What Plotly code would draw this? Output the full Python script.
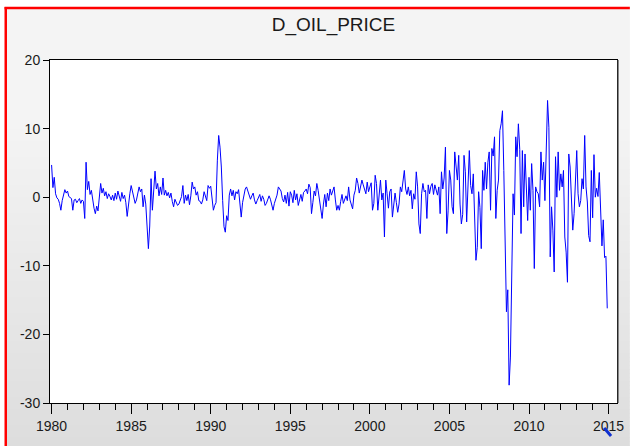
import plotly.graph_objects as go

# Monthly D_OIL_PRICE values, 1980M01 .. 2014M12
vals_1980s = [
    4.7, 1.4, 2.9, 0.5, -0.1, -0.3, -0.9, -1.9, -0.5, 0.4, 1.1, 0.6,      # 1980
    0.9, 0.1, 0.0, -0.2, -1.9, -0.4, -0.3, -0.8, -0.5, -0.2, -0.9, -0.4,  # 1981
    -0.6, -3.1, 5.1, 1.1, 2.3, 0.4, 1.0, -0.8, -1.6, -2.4, -1.3, -2.0,    # 1982
    0.4, 2.0, 0.6, 1.3, 0.2, 0.8, -0.2, 0.5, 0.1, -0.4, 0.3, -0.5,        # 1983
    0.6, -0.3, 0.9, 0.2, -0.6, 0.7, -0.2, 0.3, -0.8, -2.8, -0.9, 0.5,     # 1984
    1.7, 0.9, -0.2, -0.9, -0.4, 0.6, 1.5, 0.8, 1.2, -1.4, 0.3, -1.0,      # 1985
    -3.8, -7.5, -4.2, 2.7, -1.9, 0.6, 3.8, 1.2, 2.0, 0.2, 1.5, 0.4,       # 1986
    2.8, 0.3, 1.0, 0.2, 0.7, -0.1, 0.6, -0.6, -1.4, -0.3, -0.8, -1.2,     # 1987
    -1.0, -0.5, 0.1, 1.7, -0.9, 0.3, -0.5, 0.4, -1.1, 0.2, 2.2, 1.2,      # 1988
    1.5, 0.3, 0.8, -0.5, -0.6, -1.0, -0.4, 0.8, 0.2, -0.5, 1.7, 1.3,      # 1989
]
vals_1990s = [
    1.6, -0.5, -1.9, -1.2, -0.8, 5.4, 9.0, 7.3, 4.4, -0.5, -4.3, -5.1,    # 1990
    -2.7, -3.4, 0.3, 1.2, 0.2, 1.0, -0.4, 0.8, 0.5, 1.1, -0.6, -2.9,      # 1991
    -0.8, 0.3, 1.2, 1.5, 0.9, 0.6, -0.3, 0.2, 0.6, -0.4, -1.0, -0.5,      # 1992
    0.1, 0.4, -0.6, 0.2, -0.3, -1.2, -0.9, -0.4, 0.2, -0.3, -1.4, -1.9,   # 1993
    -0.9, -0.4, 0.3, 1.5, 1.2, 0.9, -0.2, -0.7, 0.3, -0.9, 0.7, -1.3,     # 1994
    0.8, 0.3, -0.8, 1.0, -0.4, 0.5, -1.2, -0.3, 0.4, -0.6, 0.7, 0.9,      # 1995
    1.2, 0.5, 1.9, 1.4, -2.4, -0.8, 0.9, 0.2, 2.0, 1.0, -0.5, -1.2,       # 1996
    -3.1, -1.0, 0.4, -1.4, 0.6, -0.5, 1.2, 0.3, 0.8, 1.5, -0.4, -1.9,     # 1997
    -1.2, -1.9, -0.6, 0.4, -0.9, -0.3, 0.2, -0.5, 1.5, -0.4, -1.2, -1.7,  # 1998
    0.3, 1.0, 2.8, 2.0, 0.6, 1.4, 2.5, 1.8, 1.2, 0.5, 2.2, 0.8,           # 1999
]
vals_2000s = [
    1.5, 2.1, -1.9, -0.9, 3.2, 2.0, -1.9, 0.8, 2.5, -0.4, 0.6, -5.8,      # 2000
    2.5, 0.5, -1.6, 0.8, 1.2, -2.9, -1.4, 0.6, -0.8, -2.2, -1.0, 1.5,     # 2001
    0.8, 2.5, 3.9, 1.2, 0.4, 1.5, 0.2, 1.0, -1.7, 0.5, -0.3, 3.7,         # 2002
    1.5, -3.9, -5.3, 0.5, 2.0, 0.8, 1.0, -3.1, 1.8, 0.5, 1.6, 2.0,        # 2003
    0.4, 1.8, 1.2, 0.3, 1.5, -2.4, 3.7, 1.2, 2.8, 7.3, -5.3, -2.0,        # 2004
    3.9, 2.5, -1.4, -2.4, 6.6, 4.4, 2.5, 6.1, -1.0, -3.9, -2.5, 6.1,      # 2005
    3.7, -3.6, 1.5, 6.8, 1.7, 0.5, 3.4, -5.3, -9.2, -7.3, 0.8, -1.5,      # 2006
    -7.5, 3.9, 1.0, 5.1, 1.2, 5.1, 6.6, -1.9, 7.1, 6.0, 8.8, -3.1,        # 2007
    1.0, 2.5, 9.7, 10.7, 12.6, 3.9, -8.5, -16.7, -13.5, -27.4, -23.3, -7.7,  # 2008
    0.5, -2.6, 8.8, 5.9, 10.7, 7.0, -5.3, 6.8, -1.4, 6.3, 2.2, -3.4,      # 2009
]
vals_2010s = [
    2.9, -1.9, 4.9, 1.0, -10.4, 1.5, 0.8, 0.5, -1.4, 6.6, 2.5, 5.1,       # 2010
    -0.5, 6.8, 14.1, 10.2, -8.7, -1.4, -4.8, -10.9, 5.9, 0.0, 6.6, 1.0,   # 2011
    3.4, 1.5, 3.9, -5.8, -8.0, -12.4, 6.3, 4.4, 0.5, -4.8, -2.4, 1.4,     # 2012
    6.8, 0.5, -1.4, -0.5, 2.7, 1.2, 9.0, 1.5, -0.7, -5.6, -6.5, 3.9,      # 2013
    -3.0, 6.2, 0.0, 1.3, 0.1, 3.6, -2.2, -7.1, -3.3, -8.8, -8.6, -16.2,   # 2014
]
start_year = 1980
y_ticks = [-30, -20, -10, 0, 10, 20]
y_tick_text = ["-30", "-20", "-10", "0", "10", "20"]
title_text = "D_OIL_PRICE"

values = vals_1980s + vals_1990s + vals_2000s + vals_2010s
dates = [start_year + i / 12.0 for i in range(len(values))]

W_FIG, H_FIG = 635, 446
L, R, T, B = 50, 624, 60, 403
PW, PH = R - L, B - T


def px(x):
    return (x - L) / PW


def py(y):
    return (B - y) / PH


fig = go.Figure()
fig.add_trace(go.Scatter(x=dates, y=values, mode="lines",
                         line=dict(color="#0000ff", width=1),
                         hoverinfo="skip", showlegend=False))

shapes = []
# gray panel with a soft vertical gradient
y0 = 9
step = 4
while y0 < H_FIG:
    y1 = min(y0 + step, H_FIG)
    ym = (y0 + y1) / 2
    if ym < 120:
        g = 244
    else:
        g = round(244 - 23 * (ym - 120) / (H_FIG - 120))
    col = "rgb(%d,%d,%d)" % (g, g, g)
    shapes.append(dict(type="rect", xref="paper", yref="paper", layer="below",
                       x0=px(6), x1=px(W_FIG + 2), y0=py(y1 + 0.5), y1=py(y0),
                       line=dict(width=0), fillcolor=col))
    y0 = y1
# white plot area
shapes.append(dict(type="rect", xref="paper", yref="paper", layer="below",
                   x0=0, x1=1, y0=0, y1=1, line=dict(width=0), fillcolor="white"))
# red frame (top and left)
shapes.append(dict(type="line", xref="paper", yref="paper", layer="above",
                   x0=px(4), x1=px(W_FIG + 2), y0=py(8), y1=py(8),
                   line=dict(color="#ff0000", width=2.5)))
shapes.append(dict(type="line", xref="paper", yref="paper", layer="above",
                   x0=px(5.2), x1=px(5.2), y0=py(7), y1=py(H_FIG + 2),
                   line=dict(color="#ff0000", width=2.5)))
# shadow at right edge of the plot frame
shapes.append(dict(type="line", xref="paper", yref="paper", layer="above",
                   x0=px(625.3), x1=px(625.3), y0=py(B), y1=py(T),
                   line=dict(color="#7a7a7a", width=1.2)))
# small blue cursor mark near the 2015 label
shapes.append(dict(type="line", xref="paper", yref="paper", layer="above",
                   x0=px(611), x1=px(618), y0=py(428), y1=py(436),
                   line=dict(color="#1030d0", width=3)))

axis_font = dict(family="Liberation Sans, Arial, sans-serif", size=14, color="#1a1a1a")

fig.update_layout(
    width=W_FIG, height=H_FIG,
    margin=dict(l=L, r=W_FIG - R, t=T, b=H_FIG - B, pad=0),
    paper_bgcolor="white", plot_bgcolor="white",
    shapes=shapes,
    title=dict(text=title_text, x=0.5, xref="paper", xanchor="center",
               y=1 - 24 / H_FIG, yref="container", yanchor="middle",
               font=dict(family="Liberation Sans, Arial, sans-serif", size=19, color="#1a1a1a")),
    xaxis=dict(range=[1979.9, 2015.53], tickmode="linear", tick0=1980, dtick=5,
               ticks="outside", ticklen=10, tickwidth=1, tickcolor="black",
               showline=True, linecolor="black", linewidth=1, mirror=True,
               showgrid=False, zeroline=False, tickfont=axis_font,
               minor=dict(tickmode="linear", tick0=1980, dtick=1, ticks="outside",
                          ticklen=6, tickwidth=1, tickcolor="black", showgrid=False)),
    yaxis=dict(range=[-30, 20], tickmode="array", tickvals=y_ticks, ticktext=y_tick_text,
               ticks="outside", ticklen=6, tickwidth=1, tickcolor="black",
               showline=True, linecolor="black", linewidth=1, mirror=True,
               showgrid=False, zeroline=False, tickfont=axis_font),
)

fig.write_html("out.html",
               config={"displayModeBar": False, "staticPlot": True},
               post_script="document.body.style.margin='0px';"
                           "document.body.style.overflow='hidden';")
